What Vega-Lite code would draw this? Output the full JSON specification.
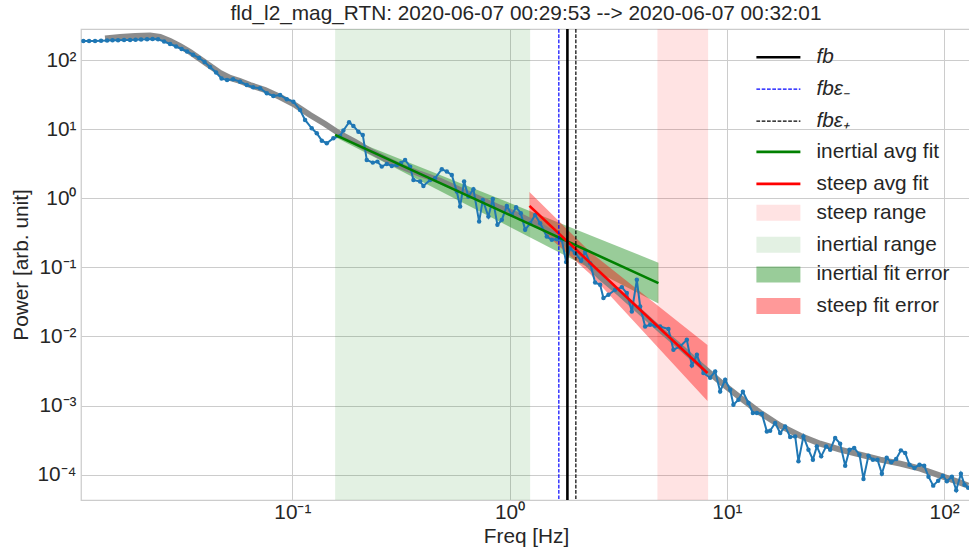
{
  "$schema": "https://vega.github.io/schema/vega-lite/v6.json",
  "width": 890,
  "height": 471,
  "autosize": {"type": "none"},
  "padding": {"left": 81, "top": 29, "right": 0, "bottom": 50},
  "title": {"text": "fld_l2_mag_RTN:  2020-06-07 00:29:53 --> 2020-06-07 00:32:01", "fontSize": 20.8, "font": "Liberation Sans", "fontWeight": "normal", "color": "#262626", "anchor": "middle", "offset": -1},
  "resolve": {"scale": {"color": "independent"}},
  "layer": [
    {
      "data": {"values": [{"series": "inertial range", "f": 0.1573, "f2": 1.243}, {"series": "steep range", "f": 4.79, "f2": 8.2}]},
      "mark": {"type": "rect", "opacity": 0.11},
      "encoding": {
        "x": {"field": "f", "type": "quantitative", "scale": {"type": "log", "domain": [0.01064, 133], "nice": false}},
        "x2": {"field": "f2"},
        "color": {"field": "series", "type": "nominal", "scale": {"domain": ["steep range", "inertial range"], "range": ["#ff0000", "#008000"]},
          "legend": {"title": null, "orient": "none", "legendX": 687, "legendY": 173.3, "padding": 0, "labelFontSize": 20.8, "labelColor": "#262626", "labelFont": "Liberation Sans", "labelLimit": 0, "labelOffset": 27.7, "rowPadding": 10, "symbolSize": 256, "symbolType": "M-2.75,-1H2.75V1H-2.75Z", "symbolStrokeWidth": 0}}
      }
    },
    {
      "data": {"values": [
        {"series": "inertial fit error", "f": 0.1573, "lo": 7.704, "hi": 8.803}, {"series": "inertial fit error", "f": 4.842, "lo": 0.02988, "hi": 0.117},
        {"series": "steep fit error", "f": 1.234, "lo": 0.4862, "hi": 1.235}, {"series": "steep fit error", "f": 2.348, "lo": 0.0803, "hi": 0.167}, {"series": "steep fit error", "f": 8.14, "lo": 0.001163, "hi": 0.007505}
      ]},
      "mark": {"type": "area", "opacity": 0.4},
      "encoding": {
        "x": {"field": "f", "type": "quantitative", "scale": {"type": "log", "domain": [0.01064, 133], "nice": false}},
        "y": {"field": "lo", "type": "quantitative", "scale": {"type": "log", "domain": [0.000043, 281], "nice": false}},
        "y2": {"field": "hi"},
        "color": {"field": "series", "type": "nominal", "scale": {"domain": ["inertial fit error", "steep fit error"], "range": ["#008000", "#ff0000"]},
          "legend": {"title": null, "orient": "none", "legendX": 687, "legendY": 235, "padding": 0, "labelFontSize": 20.8, "labelColor": "#262626", "labelFont": "Liberation Sans", "labelLimit": 0, "labelOffset": 27.7, "rowPadding": 9.5, "symbolSize": 256, "symbolType": "M-2.75,-1H2.75V1H-2.75Z", "symbolStrokeWidth": 0}}
      }
    },
    {
      "data": {"values": [
        {"f": 0.01373, "P": 204.6}, {"f": 0.0161, "P": 215.0}, {"f": 0.01888, "P": 222.3}, {"f": 0.02213, "P": 226.1}, {"f": 0.02461, "P": 215.0},
        {"f": 0.02735, "P": 188.2}, {"f": 0.03041, "P": 159.4}, {"f": 0.03382, "P": 130.5}, {"f": 0.03761, "P": 103.4}, {"f": 0.04182, "P": 81.87},
        {"f": 0.0465, "P": 64.86}, {"f": 0.05168, "P": 54.92}, {"f": 0.05743, "P": 49.71}, {"f": 0.06386, "P": 43.51}, {"f": 0.07485, "P": 36.84},
        {"f": 0.08778, "P": 29.18}, {"f": 0.1029, "P": 22.36}, {"f": 0.1207, "P": 16.03}, {"f": 0.1414, "P": 11.88}, {"f": 0.1658, "P": 8.516},
        {"f": 0.1944, "P": 6.525}, {"f": 0.2279, "P": 4.835}, {"f": 0.2672, "P": 3.706}, {"f": 0.3131, "P": 2.935}, {"f": 0.3872, "P": 2.248},
        {"f": 0.4786, "P": 1.781}, {"f": 0.5917, "P": 1.32}, {"f": 0.7311, "P": 0.978}, {"f": 0.9045, "P": 0.725}, {"f": 1.118, "P": 0.5555},
        {"f": 1.382, "P": 0.3982}, {"f": 1.708, "P": 0.2671}, {"f": 2.112, "P": 0.1467}, {"f": 2.61, "P": 0.07292}, {"f": 3.227, "P": 0.0414},
        {"f": 3.989, "P": 0.02274}, {"f": 4.931, "P": 0.01249}, {"f": 6.095, "P": 0.00709}, {"f": 7.537, "P": 0.003896}, {"f": 9.314, "P": 0.002212},
        {"f": 11.51, "P": 0.001299}, {"f": 14.23, "P": 0.0007879}, {"f": 17.6, "P": 0.0005112}, {"f": 21.76, "P": 0.0003665}, {"f": 26.89, "P": 0.0002809},
        {"f": 33.23, "P": 0.00023}, {"f": 41.09, "P": 0.0001947}, {"f": 50.79, "P": 0.0001649}, {"f": 62.8, "P": 0.0001443}, {"f": 77.62, "P": 0.0001222},
        {"f": 95.96, "P": 0.0000968}, {"f": 118.6, "P": 0.0000767}, {"f": 129.1, "P": 0.0000694}
      ]},
      "mark": {"type": "line", "color": "#808080", "strokeWidth": 6, "opacity": 0.9},
      "encoding": {
        "x": {"field": "f", "type": "quantitative", "scale": {"type": "log", "domain": [0.01064, 133], "nice": false}},
        "y": {"field": "P", "type": "quantitative", "scale": {"type": "log", "domain": [0.000043, 281], "nice": false}}
      }
    },
    {
      "data": {"values": [
        {"f": 0.01091, "P": 188.2}, {"f": 0.01159, "P": 188.2}, {"f": 0.01235, "P": 188.2}, {"f": 0.01316, "P": 190.1}, {"f": 0.01403, "P": 191.4},
        {"f": 0.01486, "P": 192.7}, {"f": 0.01576, "P": 193.3}, {"f": 0.0168, "P": 194.6}, {"f": 0.0179, "P": 194.6}, {"f": 0.01897, "P": 195.9},
        {"f": 0.02011, "P": 197.8}, {"f": 0.02143, "P": 199.2}, {"f": 0.02272, "P": 201.2}, {"f": 0.02408, "P": 199.2}, {"f": 0.02566, "P": 185.1},
        {"f": 0.02735, "P": 170.3}, {"f": 0.02915, "P": 156.8}, {"f": 0.0309, "P": 144.2}, {"f": 0.03275, "P": 132.7}, {"f": 0.0349, "P": 119.3},
        {"f": 0.0372, "P": 106.9}, {"f": 0.03944, "P": 93.6}, {"f": 0.0418, "P": 79.2}, {"f": 0.04455, "P": 65.97}, {"f": 0.04721, "P": 54.0},
        {"f": 0.05004, "P": 51.4}, {"f": 0.05333, "P": 52.6}, {"f": 0.05743, "P": 48.6}, {"f": 0.06168, "P": 43.5}, {"f": 0.06595, "P": 40.3},
        {"f": 0.07101, "P": 38.99}, {"f": 0.07625, "P": 33.0}, {"f": 0.08171, "P": 30.2}, {"f": 0.08778, "P": 31.2}, {"f": 0.09424, "P": 27.03},
        {"f": 0.1011, "P": 24.96}, {"f": 0.1085, "P": 18.93}, {"f": 0.1144, "P": 13.57}, {"f": 0.1228, "P": 10.29}, {"f": 0.1295, "P": 8.715},
        {"f": 0.1366, "P": 6.812}, {"f": 0.144, "P": 6.248}, {"f": 0.1544, "P": 7.379}, {"f": 0.1658, "P": 7.966}, {"f": 0.1717, "P": 9.568},
        {"f": 0.1824, "P": 12.57}, {"f": 0.1909, "P": 11.11}, {"f": 0.2013, "P": 9.192}, {"f": 0.2109, "P": 8.236}, {"f": 0.22, "P": 3.583},
        {"f": 0.2345, "P": 3.275}, {"f": 0.2462, "P": 3.386}, {"f": 0.2579, "P": 2.867}, {"f": 0.272, "P": 3.137}, {"f": 0.2868, "P": 2.934},
        {"f": 0.3025, "P": 3.034}, {"f": 0.3166, "P": 3.243}, {"f": 0.3303, "P": 3.583}, {"f": 0.3483, "P": 2.867}, {"f": 0.3607, "P": 1.842},
        {"f": 0.3872, "P": 1.74}, {"f": 0.401, "P": 1.508}, {"f": 0.4305, "P": 1.842}, {"f": 0.4539, "P": 1.949}, {"f": 0.4873, "P": 2.63},
        {"f": 0.5139, "P": 2.428}, {"f": 0.5418, "P": 2.175}, {"f": 0.5713, "P": 1.247}, {"f": 0.5917, "P": 0.757}, {"f": 0.6173, "P": 1.74},
        {"f": 0.6462, "P": 1.056}, {"f": 0.6812, "P": 1.351}, {"f": 0.7238, "P": 0.4595}, {"f": 0.7524, "P": 0.9463}, {"f": 0.7987, "P": 0.5429},
        {"f": 0.8368, "P": 0.978}, {"f": 0.8786, "P": 0.4117}, {"f": 0.9206, "P": 0.4862}, {"f": 0.9707, "P": 0.775}, {"f": 1.0235, "P": 0.5743},
        {"f": 1.071, "P": 0.7421}, {"f": 1.126, "P": 0.6078}, {"f": 1.179, "P": 0.3486}, {"f": 1.243, "P": 0.4357}, {"f": 1.31, "P": 0.5743},
        {"f": 1.382, "P": 0.4357}, {"f": 1.483, "P": 0.279}, {"f": 1.564, "P": 0.2499}, {"f": 1.65, "P": 0.2558}, {"f": 1.739, "P": 0.2499},
        {"f": 1.82, "P": 0.119}, {"f": 1.898, "P": 0.1896}, {"f": 2.002, "P": 0.1605}, {"f": 2.134, "P": 0.1242}, {"f": 2.227, "P": 0.1676},
        {"f": 2.348, "P": 0.115}, {"f": 2.475, "P": 0.06032}, {"f": 2.61, "P": 0.05587}, {"f": 2.703, "P": 0.03588}, {"f": 2.85, "P": 0.04005},
        {"f": 3.06, "P": 0.0473}, {"f": 3.285, "P": 0.05175}, {"f": 3.463, "P": 0.04238}, {"f": 3.652, "P": 0.02297}, {"f": 3.851, "P": 0.066},
        {"f": 3.989, "P": 0.02714}, {"f": 4.206, "P": 0.01394}, {"f": 4.435, "P": 0.01476}, {"f": 4.677, "P": 0.01427}, {"f": 4.931, "P": 0.01394},
        {"f": 5.383, "P": 0.01278}, {"f": 5.676, "P": 0.006418}, {"f": 6.095, "P": 0.007164}, {"f": 6.543, "P": 0.008954}, {"f": 6.9, "P": 0.003806},
        {"f": 7.277, "P": 0.005435}, {"f": 7.803, "P": 0.002956}, {"f": 8.378, "P": 0.002527}, {"f": 8.834, "P": 0.003117}, {"f": 9.314, "P": 0.001602},
        {"f": 9.822, "P": 0.002364}, {"f": 10.36, "P": 0.001695}, {"f": 10.72, "P": 0.001029}, {"f": 11.31, "P": 0.001215}, {"f": 11.85, "P": 0.001586},
        {"f": 12.57, "P": 0.001089}, {"f": 13.17, "P": 0.0007805}, {"f": 13.75, "P": 0.0007805}, {"f": 14.49, "P": 0.0007625}, {"f": 15.28, "P": 0.0004229},
        {"f": 15.82, "P": 0.0004328}, {"f": 16.69, "P": 0.0005593}, {"f": 17.6, "P": 0.000401}, {"f": 18.55, "P": 0.0004994}, {"f": 19.56, "P": 0.0003511},
        {"f": 20.63, "P": 0.0003581}, {"f": 21.36, "P": 0.0001559}, {"f": 22.52, "P": 0.0003581}, {"f": 23.75, "P": 0.00023}, {"f": 24.89, "P": 0.0001649},
        {"f": 25.96, "P": 0.0002567}, {"f": 27.18, "P": 0.000184}, {"f": 28.66, "P": 0.0002567}, {"f": 29.9, "P": 0.00023}, {"f": 31.52, "P": 0.0003396},
        {"f": 33.23, "P": 0.0002809}, {"f": 35.05, "P": 0.0001351}, {"f": 36.68, "P": 0.00023}, {"f": 38.56, "P": 0.0002434}, {"f": 40.78, "P": 0.0001947},
        {"f": 42.55, "P": 0.0000867}, {"f": 44.86, "P": 0.0001884}, {"f": 47.01, "P": 0.0001649}, {"f": 49.36, "P": 0.0001649}, {"f": 51.71, "P": 0.0001034},
        {"f": 54.41, "P": 0.0001762}, {"f": 57.08, "P": 0.0001507}, {"f": 60.18, "P": 0.0001688}, {"f": 63.26, "P": 0.0002247}, {"f": 66.21, "P": 0.0002061},
        {"f": 69.29, "P": 0.0001396}, {"f": 73.06, "P": 0.0001251}, {"f": 77.04, "P": 0.0001396}, {"f": 80.98, "P": 0.0001351}, {"f": 84.76, "P": 0.0000936},
        {"f": 89.11, "P": 0.0000694}, {"f": 93.93, "P": 0.0000819}, {"f": 98.74, "P": 0.0000968}, {"f": 103.0, "P": 0.0000801}, {"f": 108.6, "P": 0.0000936},
        {"f": 113.7, "P": 0.0000597}, {"f": 119.5, "P": 0.0001034}, {"f": 124.1, "P": 0.0000717}, {"f": 129.1, "P": 0.0000649}
      ]},
      "mark": {"type": "line", "color": "#1f77b4", "strokeWidth": 2, "point": {"filled": true, "size": 20, "color": "#1f77b4"}},
      "encoding": {
        "x": {"field": "f", "type": "quantitative", "scale": {"type": "log", "domain": [0.01064, 133], "nice": false},
          "axis": {"title": "Freq [Hz]", "values": [0.1, 1, 10, 100], "labelExpr": "'10' + (round(log(datum.value)/LN10) < 0 ? '⁻' : '') + ['⁰','¹','²','³','⁴'][abs(round(log(datum.value)/LN10))]", "labelPadding": 2, "titlePadding": 5, "labelFlush": false, "labelOverlap": false}},
        "y": {"field": "P", "type": "quantitative", "scale": {"type": "log", "domain": [0.000043, 281], "nice": false},
          "axis": {"title": "Power [arb. unit]", "values": [0.0001, 0.001, 0.01, 0.1, 1, 10, 100], "labelExpr": "'10' + (round(log(datum.value)/LN10) < 0 ? '⁻' : '') + ['⁰','¹','²','³','⁴'][abs(round(log(datum.value)/LN10))]", "labelPadding": 5, "titlePadding": 5, "labelFlush": false, "labelOverlap": false}}
      }
    },
    {
      "data": {"values": [
        {"series": "inertial avg fit", "f": 0.1573, "P": 8.24}, {"series": "inertial avg fit", "f": 4.842, "P": 0.0591},
        {"series": "steep avg fit", "f": 1.234, "P": 0.775}, {"series": "steep avg fit", "f": 8.14, "P": 0.002955}
      ]},
      "mark": {"type": "line", "strokeWidth": 2.6},
      "encoding": {
        "x": {"field": "f", "type": "quantitative", "scale": {"type": "log", "domain": [0.01064, 133], "nice": false}},
        "y": {"field": "P", "type": "quantitative", "scale": {"type": "log", "domain": [0.000043, 281], "nice": false}},
        "color": {"field": "series", "type": "nominal", "scale": {"domain": ["inertial avg fit", "steep avg fit"], "range": ["#008000", "#ff0000"]},
          "legend": {"title": null, "orient": "none", "legendX": 687, "legendY": 112.5, "padding": 0, "labelFontSize": 20.8, "labelColor": "#262626", "labelFont": "Liberation Sans", "labelLimit": 0, "labelOffset": 27.7, "rowPadding": 10, "symbolSize": 256, "symbolType": "M-2.75,0H2.75", "symbolStrokeWidth": 2.6}}
      }
    },
    {
      "data": {"values": [{"series": "fbε₋", "f": 1.685}, {"series": "fbε₊", "f": 2.018}]},
      "mark": {"type": "rule", "strokeWidth": 1.2, "strokeDash": [3.7, 1.6]},
      "encoding": {
        "x": {"field": "f", "type": "quantitative", "scale": {"type": "log", "domain": [0.01064, 133], "nice": false}},
        "color": {"field": "series", "type": "nominal", "scale": {"domain": ["fbε₋", "fbε₊"], "range": ["#0000ff", "#000000"]},
          "legend": {"title": null, "orient": "none", "legendX": 687, "legendY": 49.8, "padding": 0, "labelFontSize": 20.8, "labelColor": "#262626", "labelFont": "Liberation Sans", "labelFontStyle": "italic", "labelLimit": 0, "labelOffset": 27.7, "rowPadding": 10, "symbolSize": 256, "symbolType": "M-2.75,0H2.75", "symbolStrokeWidth": 1.2, "symbolDash": [3.7, 1.6]}}
      }
    },
    {
      "data": {"values": [{"series": "fb", "f": 1.845}]},
      "mark": {"type": "rule", "strokeWidth": 2.6},
      "encoding": {
        "x": {"field": "f", "type": "quantitative", "scale": {"type": "log", "domain": [0.01064, 133], "nice": false}},
        "color": {"field": "series", "type": "nominal", "scale": {"domain": ["fb"], "range": ["#000000"]},
          "legend": {"title": null, "orient": "none", "legendX": 687, "legendY": 17.8, "padding": 0, "labelFontSize": 20.8, "labelColor": "#262626", "labelFont": "Liberation Sans", "labelFontStyle": "italic", "labelLimit": 0, "labelOffset": 27.7, "rowPadding": 10, "symbolSize": 256, "symbolType": "M-2.75,0H2.75", "symbolStrokeWidth": 2.6}}
      }
    }
  ],
  "config": {
    "view": {"stroke": "#cccccc", "strokeWidth": 1.25},
    "font": "Liberation Sans",
    "axis": {"gridColor": "#cccccc", "gridWidth": 1, "domain": false, "ticks": false, "labelFontSize": 20.8, "labelColor": "#262626", "labelFont": "Liberation Sans", "titleFontSize": 20.8, "titleColor": "#262626", "titleFont": "Liberation Sans", "titleFontWeight": "normal"}
  }
}
